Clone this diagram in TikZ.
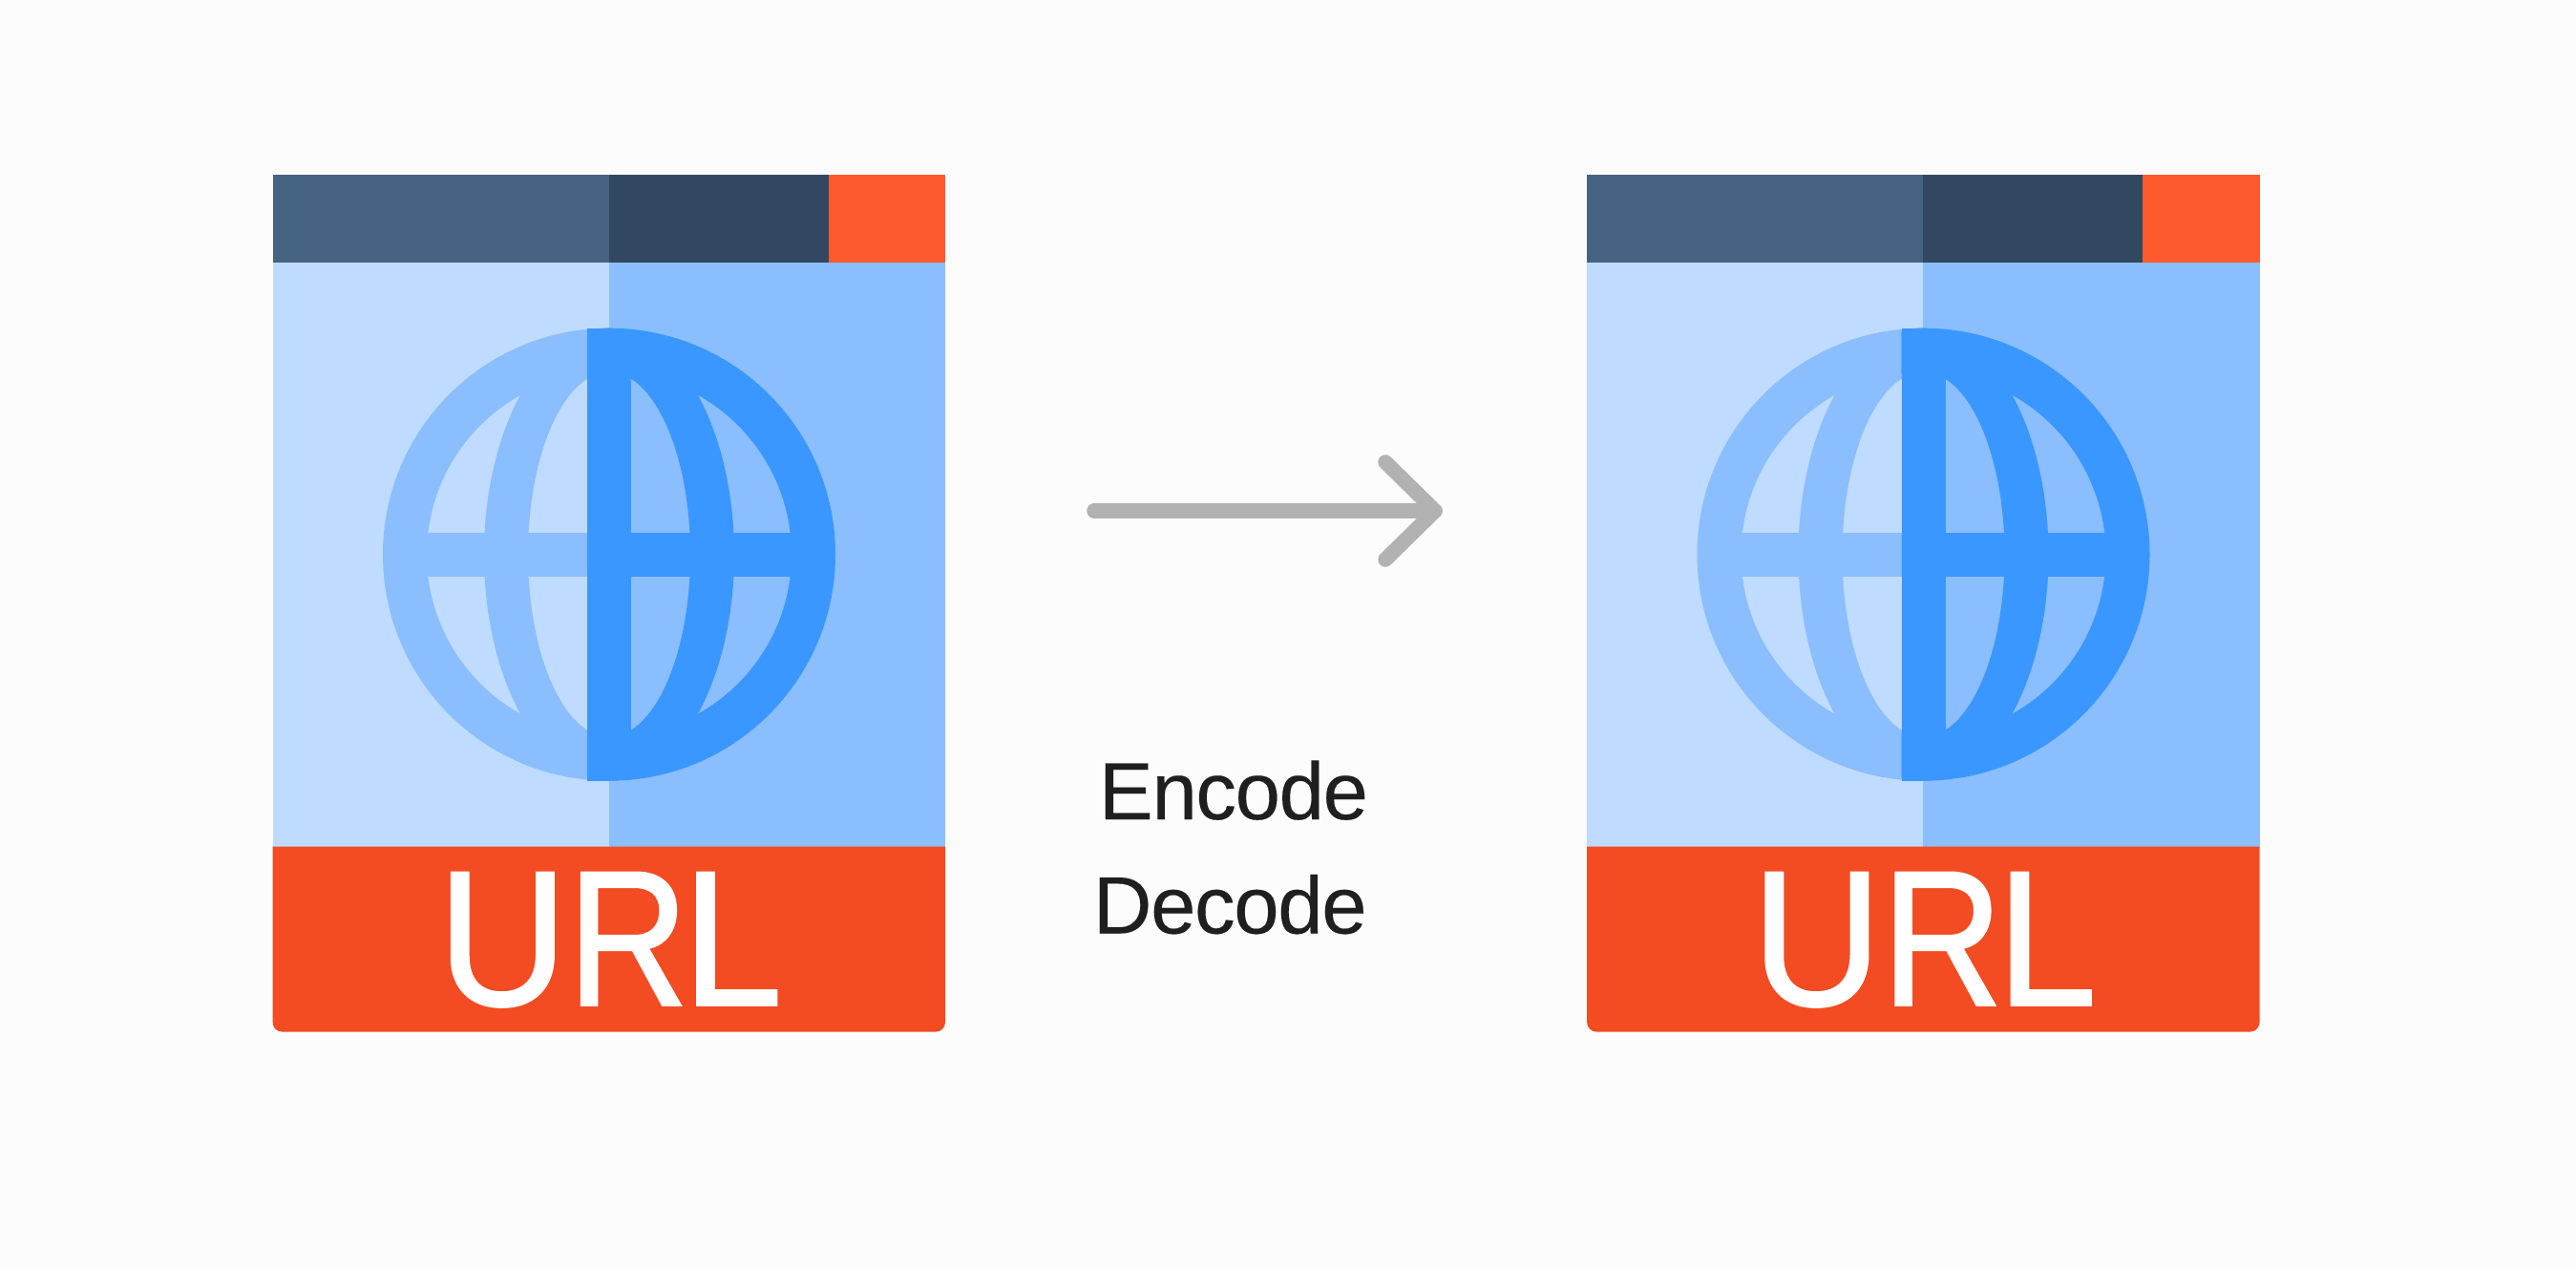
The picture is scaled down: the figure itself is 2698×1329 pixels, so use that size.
\documentclass[tikz,border=0pt]{standalone}
\usepackage{fontspec}
\usepackage{graphicx}
\setmainfont{Liberation Sans}
\newfontfamily\urlfont[FakeStretch=0.93,FakeBold=1.2]{Liberation Sans}
\newfontfamily\capfont[LetterSpace=-1.5,FakeBold=0.2]{Liberation Sans}
\definecolor{bgc}{HTML}{FCFCFC}
\definecolor{hdrA}{HTML}{466282}
\definecolor{hdrB}{HTML}{324861}
\definecolor{hdrC}{HTML}{FF5A2D}
\definecolor{redc}{HTML}{F34B22}
\definecolor{lightc}{HTML}{BFDBFF}
\definecolor{midc}{HTML}{8BBEFF}
\definecolor{brightc}{HTML}{3A97FF}
\definecolor{arrowc}{HTML}{B2B2B2}
\definecolor{textc}{HTML}{1F1F1F}
\tikzset{
  x=1pt,y=-1pt,
  urllabel/.style={anchor=base west,inner sep=0pt,outer sep=0pt,text=white,font=\urlfont\fontsize{202}{202}\selectfont},
  caption/.style={anchor=base west,inner sep=0pt,outer sep=0pt,text=textc,font=\capfont\fontsize{85}{85}\selectfont},
  arrowline/.style={draw=arrowc,line width=15.5pt,line cap=round,line join=round}
}
\newcommand{\globeshape}{%
  \fill[even odd rule] (638,580.7) circle[radius=237] (638,580.7) circle[radius=191];
  \fill[even odd rule] (638,580.7) ellipse[x radius=131,y radius=237] (638,580.7) ellipse[x radius=85,y radius=191];
  \fill (415,557.7) rectangle (861,603.7);
  \fill (615,343.7) rectangle (638,817.7);
  \fill (638,346) rectangle (661,815.4);
}
\newcommand{\urlicon}[2]{%
  \begin{scope}[xshift=#1pt]
    \fill[hdrA] (285.6,182.6) rectangle (637.7,274.6);
    \fill[hdrB] (637.7,182.6) rectangle (867.9,274.6);
    \fill[hdrC] (867.9,182.6) rectangle (990,274.6);
    \fill[lightc] (285.6,274.6) rectangle (637.7,887);
    \fill[midc] (637.7,274.6) rectangle (990,887);
    \begin{scope}[color=midc]
      \clip (380,330) rectangle (615,830);
      \globeshape
    \end{scope}
    \begin{scope}[color=brightc]
      \clip (615,330) rectangle (900,830);
      \globeshape
    \end{scope}
    \fill[redc] (285.6,886.5) [rounded corners=10pt] -- (285.6,1080.6) -- (990,1080.6) [sharp corners] -- (990,886.5) -- cycle;
    \node[urllabel] (#2) at (458.5,1052.7) {U\kern0.5pt\scalebox{0.93}[1]{R}\kern-6pt L};
  \end{scope}}
\begin{document}
\begin{tikzpicture}
  \useasboundingbox (0,0) rectangle (2698,1329);
  \fill[bgc] (0,0) rectangle (2698,1329);
  \urlicon{0}{urlA}
  \urlicon{1376.5}{urlB}
  \coordinate (tail) at (1146,535);
  \coordinate (tip) at (1503,535);
  \coordinate (barbup) at (1451,484);
  \coordinate (barbdown) at (1451,586);
  \draw[arrowline] (tail) -- (tip);
  \draw[arrowline] (barbup) -- (tip) -- (barbdown);
  \node[caption] (encode) at (1151,858) {Encode};
  \node[caption] (decode) at (1145,977.5) {Decode};
\end{tikzpicture}
\end{document}
